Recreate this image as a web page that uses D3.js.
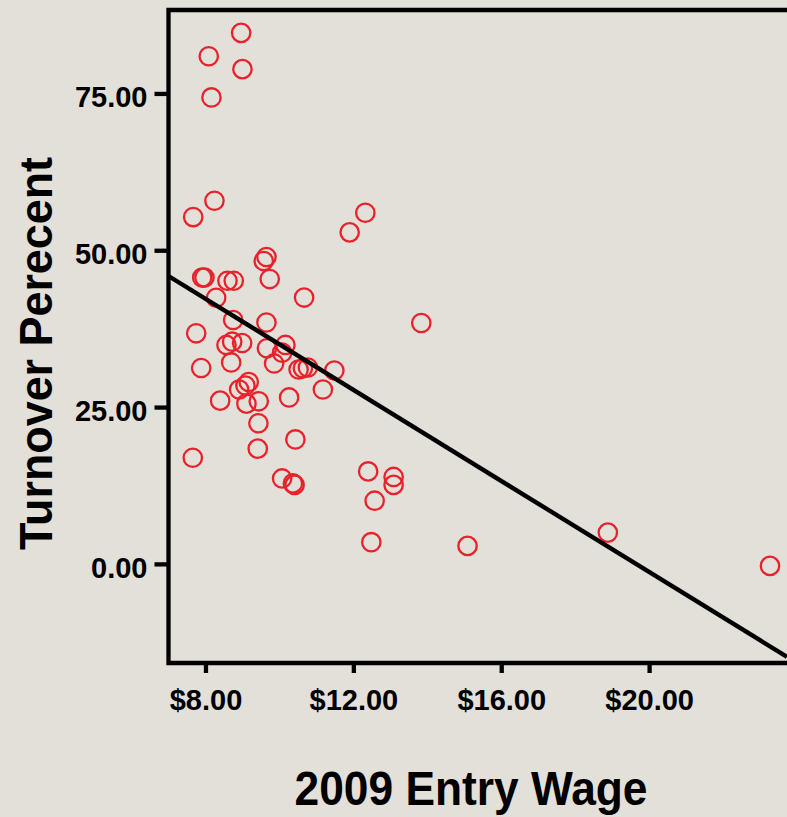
<!DOCTYPE html>
<html><head><meta charset="utf-8">
<script src="https://cdn.jsdelivr.net/npm/d3@7"></script>
<style>
html,body{margin:0;padding:0;background:#e3dfd9;}
svg{display:block;}
text{font-family:"Liberation Sans",Arial,sans-serif;font-weight:bold;fill:#000;}
</style></head>
<body>
<svg id="chart" width="787" height="817"></svg>
<script>
// Entry wage ($) per point
const wage = [8.965,8.089,9.000,8.162,8.243,7.668,12.324,11.900,9.649,9.576,
  9.738,7.911,7.973,8.595,8.765,8.289,10.668,13.838,8.749,9.649,
  7.749,8.568,8.722,8.992,8.695,9.662,10.162,10.073,9.857,7.884,
  10.519,10.635,10.770,11.486,9.170,9.081,8.911,11.176,8.397,9.108,
  9.441,10.262,9.432,10.432,9.414,7.657,10.073,10.365,10.411,12.400,
  13.089,13.089,12.576,12.486,15.089,18.884,23.270];
// Turnover percent per point
const turnover = [84.66,80.93,78.87,74.36,57.89,55.29,55.98,52.85,48.92,48.28,
  45.41,45.65,45.65,45.14,45.14,42.43,42.46,38.40,38.88,38.48,
  36.76,34.90,35.42,35.21,32.11,34.37,34.90,33.67,31.95,31.23,
  30.99,31.18,31.31,30.83,29.00,28.44,27.80,27.80,26.02,25.54,
  25.92,26.53,22.42,19.84,18.37,16.92,13.62,12.83,12.59,14.74,
  13.86,12.59,10.07,3.46,2.87,4.99,-0.32];
// Fit line end points
const fitX = [7.0, 23.73];
const fitY = [45.89, -14.82];
// Tick values and labels
const xTicks = [8, 12, 16, 20];
const xTickLabels = ["$8.00", "$12.00", "$16.00", "$20.00"];
const yTicks = [0, 25, 50, 75];
const yTickLabels = ["0.00", "25.00", "50.00", "75.00"];
const xTitle = "2009 Entry Wage";
const yTitle = "Turnover Perecent";

const svg = d3.select("#chart");
const x = d3.scaleLinear().domain([7.0, 23.73]).range([168.5, 787]);
const y = d3.scaleLinear().domain([-15.8, 88.3]).range([663, 10]);

const [x0, x1] = x.range();
const [yb, yt] = y.range();

svg.append("defs").append("clipPath").attr("id","plotclip")
  .append("rect").attr("x", x0).attr("y", yt).attr("width", x1 - x0 + 20).attr("height", yb - yt);

// points
svg.append("g").attr("clip-path","url(#plotclip)")
  .selectAll("circle").data(wage.map((w,i)=>[w, turnover[i]])).join("circle")
  .attr("cx", d => x(d[0])).attr("cy", d => y(d[1])).attr("r", 9.2)
  .attr("fill", "none").attr("stroke", "#e8212b").attr("stroke-width", 2.3);

// fit line
svg.append("g").attr("clip-path","url(#plotclip)")
  .append("path")
  .datum(fitX.map((v,i)=>[v, fitY[i]]))
  .attr("d", d3.line().x(d=>x(d[0])).y(d=>y(d[1])))
  .attr("stroke", "#000").attr("stroke-width", 4.4).attr("fill","none");

// frame: left, top, bottom
const frame = svg.append("g").attr("stroke","#000").attr("stroke-width",4.3).attr("fill","none");
frame.append("path").attr("d", `M${x1+5},${yt}H${x0}V${yb}H${x1+5}`).attr("stroke-linecap","square");

// y axis
const yAxis = d3.axisLeft(y).tickValues(yTicks).tickSize(14).tickFormat((d,i)=>yTickLabels[i]).tickPadding(8);
const gy = svg.append("g").attr("transform", `translate(${x0},0)`).call(yAxis);
gy.select(".domain").remove();
gy.selectAll(".tick line").attr("stroke","#000").attr("stroke-width",4.3);
gy.selectAll(".tick text").attr("font-size", 29).attr("font-family",null).attr("dy","0.46em").attr("x",-21);

// x axis
const xAxis = d3.axisBottom(x).tickValues(xTicks).tickSize(10).tickFormat((d,i)=>xTickLabels[i]).tickPadding(8);
const gx = svg.append("g").attr("transform", `translate(0,${yb})`).call(xAxis);
gx.select(".domain").remove();
gx.selectAll(".tick line").attr("stroke","#000").attr("stroke-width",4.3);
gx.selectAll(".tick text").attr("font-size", 29).attr("font-family",null).attr("dy",null).attr("y",47);

// titles
svg.append("text").attr("x", 471).attr("y", 805).attr("text-anchor","middle")
  .attr("font-size", 49).attr("textLength", 353).attr("lengthAdjust","spacingAndGlyphs").text(xTitle);
svg.append("text").attr("transform","translate(52,353.5) rotate(-90)").attr("text-anchor","middle")
  .attr("font-size", 47).attr("textLength", 393).attr("lengthAdjust","spacingAndGlyphs").text(yTitle);
</script>
</body></html>
